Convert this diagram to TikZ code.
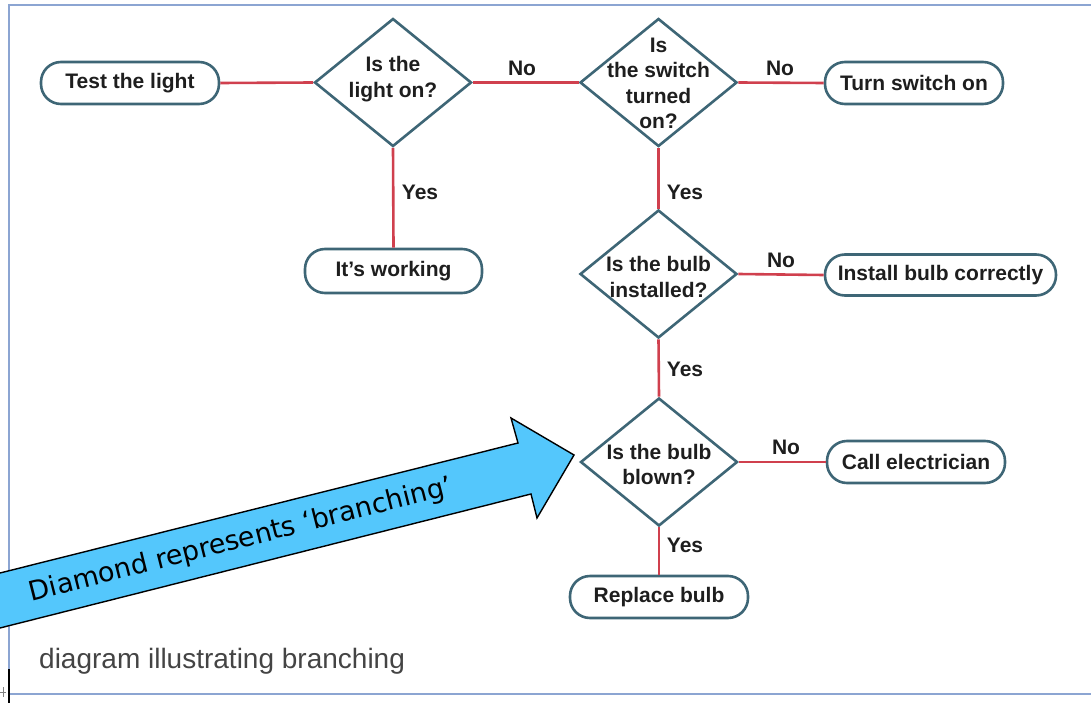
\documentclass[tikz,border=0pt]{standalone}
\usepackage{fontspec}
\setmainfont{Liberation Sans}
\newfontfamily\dejavu{DejaVu Sans}
\usetikzlibrary{shapes.geometric}
\definecolor{slate}{RGB}{62,102,118}
\definecolor{conn}{RGB}{208,64,78}
\definecolor{framec}{RGB}{140,165,210}
\definecolor{arrowblue}{RGB}{84,199,252}
\definecolor{txt}{RGB}{30,30,30}
\definecolor{capc}{RGB}{68,68,68}
\begin{document}
\begin{tikzpicture}[x=1pt,y=-1pt,
  term/.style={draw=slate, line width=2.6pt, rounded corners=20pt, minimum height=42pt, inner sep=0pt, font=\bfseries\fontsize{21}{25}\selectfont, text=txt, fill=white},
  dia/.style={draw=slate, line width=2.6pt, diamond, minimum width=157pt, minimum height=128pt, inner sep=0pt, fill=white},
  diatext/.style={font=\bfseries\fontsize{21}{25.5}\selectfont, text=txt, align=center, inner sep=0pt},
  lbl/.style={font=\bfseries\fontsize{21}{25}\selectfont, text=txt, inner sep=0pt},
  link/.style={draw=conn, line width=2.6pt},
]
\useasboundingbox (0,0) rectangle (1091,703);
% frame
\draw[framec, line width=1.5pt] (1091,5) -- (9,5) -- (9,694) -- (1091,694);
% nodes
\node[term, minimum width=178pt] (test) at (130,83) {Test the light};
\node[dia] (d1) at (393,82.5) {};
\node[diatext] (d1t) at (393,79) {Is the\\light on?};
\node[dia] (d2) at (658.5,82.5) {};
\node[diatext] (d2t) at (658.5,83.5) {Is\\the switch\\turned\\on?};
\node[term, minimum width=178pt] (turn) at (914,83) {Turn switch on};
\node[term, minimum width=177pt, minimum height=44pt] (work) at (393.5,271) {It's working};
\node[dia] (d3) at (658.5,274) {};
\node[diatext] (d3t) at (658.5,277) {Is the bulb\\installed?};
\node[term, minimum width=231pt, minimum height=41pt] (inst) at (940.5,275) {Install bulb correctly};
\node[dia] (d4) at (659,462) {};
\node[diatext] (d4t) at (659,464.5) {Is the bulb\\blown?};
\node[term, minimum width=178pt] (call) at (916,462) {Call electrician};
\node[term, minimum width=178pt] (repl) at (659,597) {Replace bulb};
% connectors
\draw[link] (test.east) -- (d1.west);
\draw[link] (d1.east) -- (d2.west);
\draw[link] (d1.south) -- (work.north);
\draw[link] (d2.east) -- (turn.west);
\draw[link] (d2.south) -- (d3.north);
\draw[link] (d3.east) -- (inst.west);
\draw[link] (d3.south) -- (d4.north);
\draw[link] (d4.east) -- (call.west);
\draw[link] (d4.south) -- (repl.north);
% labels
\node[lbl] (l1) at (522,68) {No};
\node[lbl] (l2) at (420,192) {Yes};
\node[lbl] (l3) at (780,68) {No};
\node[lbl] (l4) at (685,192) {Yes};
\node[lbl] (l5) at (781,260) {No};
\node[lbl] (l6) at (685,369) {Yes};
\node[lbl] (l7) at (786,447) {No};
\node[lbl] (l8) at (685,545) {Yes};
% caption
\node[anchor=base west, inner sep=0pt, text=capc, font=\fontsize{28}{32}\selectfont] (caption) at (39,668) {diagram illustrating branching};
% callout arrow
\filldraw[fill=arrowblue, draw=black, line width=1.4pt, line join=miter] (-10,575.5) -- (518,443) -- (511,418) -- (574,455) -- (537,518) -- (531,494) -- (-10,630.5) -- cycle;
\node[font=\dejavu\fontsize{27}{30}\selectfont, rotate=14.2, text=black, inner sep=0pt] (arrowtext) at (241,540.5) {Diamond represents ‘branching’};
% cursor marks
\draw[black, line width=1.8pt] (9,669) -- (9,703);
\draw[gray, line width=0.8pt] (0,692) -- (6,692) (3,687) -- (3,697);
\end{tikzpicture}
\end{document}
